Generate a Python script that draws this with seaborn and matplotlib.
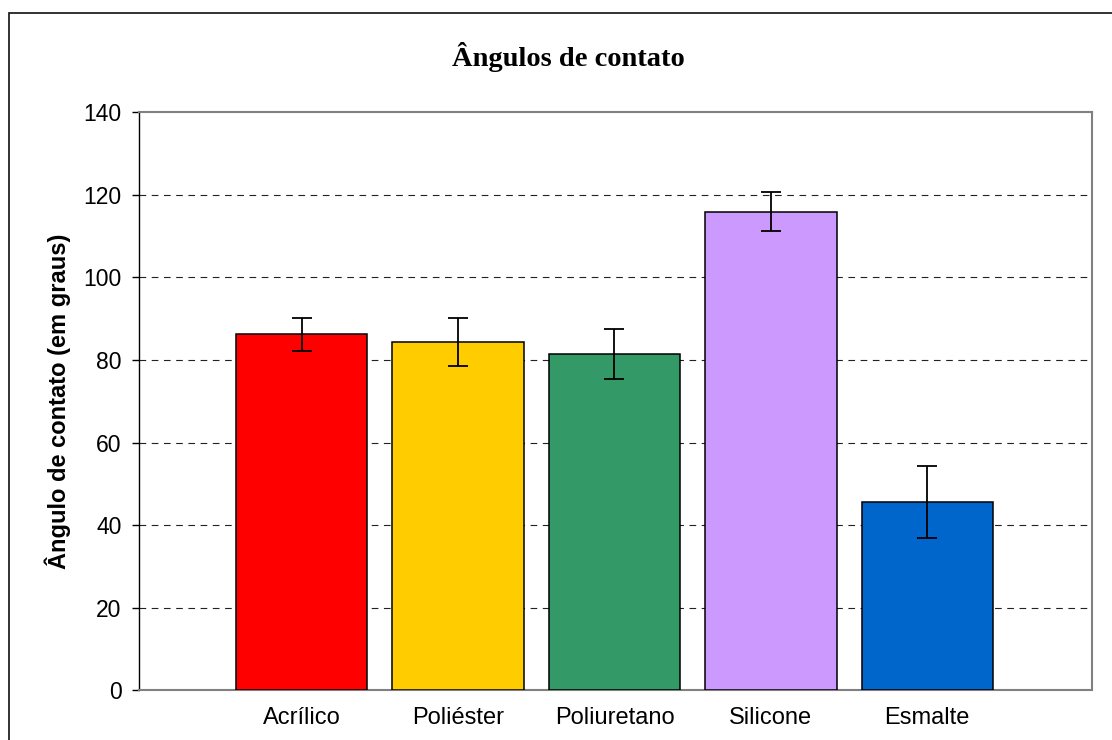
import matplotlib
matplotlib.use("Agg")
import matplotlib.pyplot as plt
import seaborn as sns
import pandas as pd
from matplotlib.patches import Rectangle

categories = ["Acrílico", "Poliéster", "Poliuretano", "Silicone", "Esmalte"]
values = [86.2, 84.3, 81.4, 115.9, 45.7]
errors = [4.0, 5.8, 6.0, 4.65, 8.7]
colors = ["#FF0000", "#FFCC00", "#339966", "#CC99FF", "#0066CC"]
yticks = [0, 20, 40, 60, 80, 100, 120, 140]

sns.set_theme(style="white")
plt.rcParams["font.family"] = ["Liberation Sans", "DejaVu Sans"]
plt.rcParams["text.color"] = "black"
plt.rcParams["axes.labelcolor"] = "black"
plt.rcParams["xtick.color"] = "black"
plt.rcParams["ytick.color"] = "black"

W, H = 1112, 740
fig = plt.figure(figsize=(W / 100, H / 100), dpi=100)
ax = fig.add_axes([139 / W, 1 - 690.4 / H, (1091.5 - 139) / W, (690.4 - 112) / H])

df = pd.DataFrame({"cat": categories, "val": values})
sns.barplot(data=df, x="cat", y="val", hue="cat", palette=colors, legend=False,
            width=0.84, edgecolor="black", linewidth=1.1, saturation=1, ax=ax, zorder=3)
ax.errorbar(range(len(categories)), values, yerr=errors, fmt="none", ecolor="black",
            elinewidth=1.3, capsize=7, capthick=1.3, zorder=4)

ax.set_xlim(-1.04, 5.05)
ax.set_ylim(0, 140)
ax.set_yticks(yticks)
ax.set_yticklabels([str(t) for t in yticks], fontsize=16.5)
ax.tick_params(axis="y", direction="out", length=5, width=1, color="black", pad=7.5, left=True)
ax.tick_params(axis="x", length=0, pad=12, labelsize=17)
for t in yticks[1:-1]:
    ax.axhline(t, color="#222222", linestyle=(0, (6, 5)), linewidth=0.8, zorder=1)

ax.set_xlabel("")
ax.set_ylabel("Ângulo de contato (em graus)", fontsize=17, fontweight="bold", labelpad=9)

for s in ["top", "right", "bottom"]:
    ax.spines[s].set_color("#808080")
    ax.spines[s].set_linewidth(1.5)
ax.spines["left"].set_color("black")
ax.spines["left"].set_linewidth(1)

fig.text(568 / W, 1 - 57 / H, "Ângulos de contato", ha="center", va="center",
         fontsize=20.5, fontweight="bold", family=["Liberation Serif", "DejaVu Serif"])

fig.patches.append(Rectangle((9 / W, -0.1), 1.2, 1 - 13 / H + 0.1, transform=fig.transFigure,
                             fill=False, edgecolor="#222222", linewidth=1.3, clip_on=False))

fig.savefig("out.png", dpi=100)
